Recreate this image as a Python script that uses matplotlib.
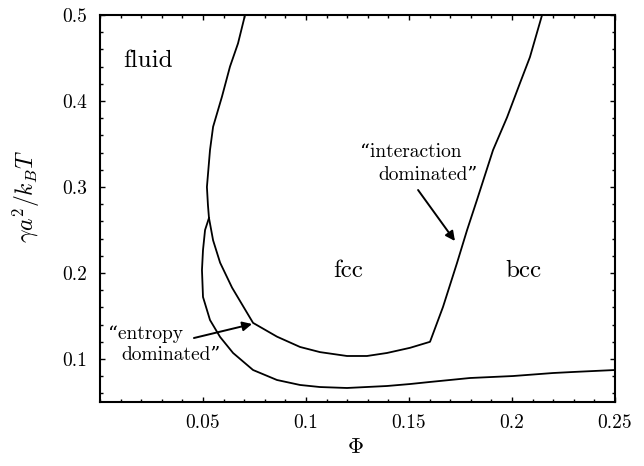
import matplotlib
matplotlib.use("Agg")
import matplotlib.pyplot as plt
from matplotlib.ticker import MultipleLocator

plt.rcParams['font.family'] = ['cmr10', 'DejaVu Serif']
plt.rcParams['mathtext.fontset'] = 'cm'
plt.rcParams['axes.unicode_minus'] = False

# fluid/fcc boundary continuing into the fcc/bcc boundary
phi_upper = [0.0704, 0.0670, 0.0631, 0.0592, 0.0549, 0.0534, 0.0519, 0.0524,
             0.0529, 0.0549, 0.0583, 0.0641, 0.0743, 0.0859, 0.0971, 0.1068,
             0.1199, 0.1296, 0.1393, 0.1505, 0.1602, 0.1665, 0.1733, 0.1782,
             0.1830, 0.1908, 0.1976, 0.2039, 0.2087, 0.2146]
gamma_upper = [0.500, 0.467, 0.440, 0.405, 0.370, 0.343, 0.300, 0.279,
               0.264, 0.238, 0.212, 0.183, 0.142, 0.126, 0.114, 0.108,
               0.1035, 0.1035, 0.107, 0.113, 0.120, 0.1605, 0.2116, 0.250,
               0.285, 0.343, 0.381, 0.421, 0.451, 0.500]

# fluid/solid boundary at low coupling
phi_lower = [0.0529, 0.0510, 0.0500, 0.0495, 0.0500, 0.0534, 0.0583, 0.0646,
             0.0743, 0.0859, 0.0971, 0.1068, 0.1199, 0.1393, 0.1505, 0.1602,
             0.1796, 0.2005, 0.2199, 0.2296, 0.2500]
gamma_lower = [0.264, 0.250, 0.2267, 0.2035, 0.1721, 0.1453, 0.1256, 0.1070,
               0.0872, 0.0756, 0.0698, 0.0674, 0.0663, 0.0686, 0.0709, 0.0733,
               0.0779, 0.0802, 0.0837, 0.0849, 0.0872]

x_ticks = [0.05, 0.1, 0.15, 0.2, 0.25]
x_tick_labels = ['0.05', '0.1', '0.15', '0.2', '0.25']
y_ticks = [0.1, 0.2, 0.3, 0.4, 0.5]
y_tick_labels = ['0.1', '0.2', '0.3', '0.4', '0.5']

fig = plt.figure(figsize=(6.44, 4.66), dpi=100)
ax = fig.add_axes([100/644, 1-402/466, 515/644, 387/466])

ax.plot(phi_upper, gamma_upper, color='k', lw=1.3)
ax.plot(phi_lower, gamma_lower, color='k', lw=1.3)

ax.set_xlim(0, 0.25)
ax.set_ylim(0.05, 0.5)
ax.set_xticks(x_ticks)
ax.set_xticklabels(x_tick_labels)
ax.set_yticks(y_ticks)
ax.set_yticklabels(y_tick_labels)
ax.xaxis.set_minor_locator(MultipleLocator(0.01))
ax.yaxis.set_minor_locator(MultipleLocator(0.02))
ax.tick_params(which='both', direction='in', top=True, right=True,
               width=1.0, labelsize=14, pad=9)
ax.tick_params(which='major', length=3.5)
ax.tick_params(which='minor', length=2.2)
for sp in ax.spines.values():
    sp.set_linewidth(1.5)

ax.set_xlabel(r'$\Phi$', fontsize=16)
ax.xaxis.set_label_coords(0.495, -0.093)
ax.set_ylabel(r'$\gamma a^2/k_BT$', fontsize=17)
ax.yaxis.set_label_coords(-0.113, 0.53)

ax.text(0.0112, 0.4395, 'fluid', fontsize=18, va='baseline')
ax.text(0.1131, 0.1953, 'fcc', fontsize=18, va='baseline')
ax.text(0.1966, 0.1953, 'bcc', fontsize=18, va='baseline')

ax.text(0.0039, 0.1233, '\u201centropy', fontsize=14, va='baseline')
ax.text(0.0102, 0.0988, 'dominated\u201d', fontsize=14, va='baseline')
ax.text(0.1262, 0.3349, '\u201cinteraction', fontsize=14, va='baseline')
ax.text(0.1350, 0.3081, 'dominated\u201d', fontsize=14, va='baseline')

arrow = dict(arrowstyle='-|>', mutation_scale=14, lw=1.4, color='k',
             shrinkA=0, shrinkB=0)
ax.annotate('', xy=(0.0738, 0.1407), xytext=(0.0456, 0.1244), arrowprops=arrow)
ax.annotate('', xy=(0.1723, 0.2372), xytext=(0.1544, 0.2965), arrowprops=arrow)

fig.savefig('out.png', dpi=100)
